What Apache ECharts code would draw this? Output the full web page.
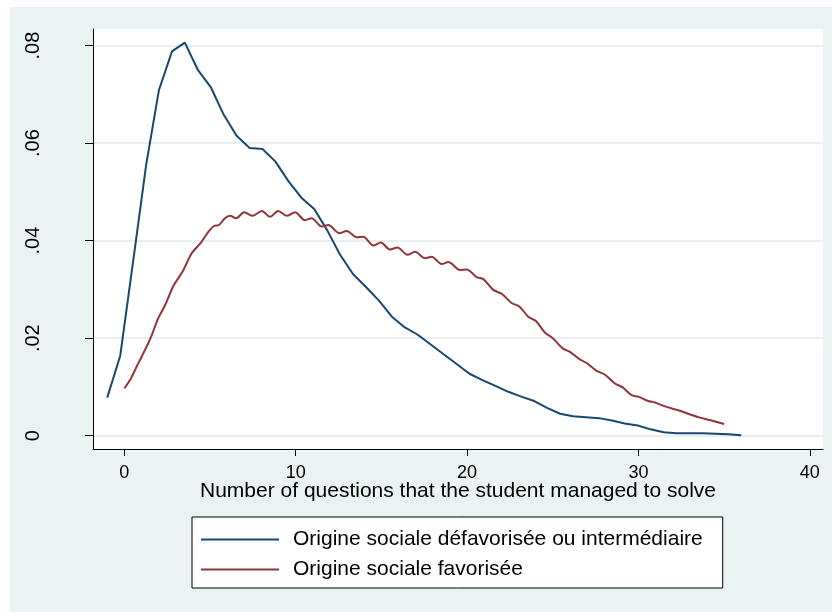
<!DOCTYPE html>
<html>
<head>
<meta charset="utf-8">
<script src="https://cdn.jsdelivr.net/npm/echarts@6/dist/echarts.min.js"></script>
<style>
  html, body { margin: 0; padding: 0; background: #fff; }
  #chart { position: absolute; left: 10px; top: 7px; width: 822px; height: 605px; }
</style>
</head>
<body>
<div id="chart"></div>
<script>
// series names
const seriesNames = [
  'Origine sociale défavorisée ou intermédiaire',
  'Origine sociale favorisée'
]

// blue curve (défavorisée ou intermédiaire)
const blueX = [-1.0, -0.24, 0.51, 1.27, 2.02, 2.78, 3.53, 4.29, 5.04, 5.80,
  6.55, 7.31, 8.06, 8.82, 9.57, 10.33, 11.08, 11.84, 12.59, 13.35,
  14.10, 14.86, 15.61, 16.37, 17.12, 17.88, 18.63, 19.39, 20.14, 20.90,
  21.65, 22.41, 23.16, 23.92, 24.67, 25.43, 26.18, 26.94, 27.69, 28.45,
  29.20, 29.96, 30.71, 31.47, 32.22, 32.98, 33.73, 34.49, 35.24, 36.0]
const blueY = [0.0078, 0.0164, 0.0357, 0.0555, 0.0709, 0.0788, 0.0806, 0.0750, 0.0715, 0.0658,
  0.0615, 0.0590, 0.0588, 0.0562, 0.0522, 0.0488, 0.0465, 0.0421, 0.0371, 0.0331,
  0.0305, 0.0277, 0.0244, 0.0222, 0.0207, 0.0187, 0.0167, 0.0147, 0.0127, 0.0114,
  0.0102, 0.0090, 0.0080, 0.0071, 0.0057, 0.0045, 0.0040, 0.0038, 0.0036, 0.0031,
  0.0025, 0.0021, 0.0013, 0.0007, 0.0005, 0.0005, 0.0005, 0.0004, 0.0003, 0.0001]

// red curve (favorisée)
const redX = [0.0, 0.39, 0.72, 1.01, 1.40, 1.64, 1.98, 2.41, 2.86, 3.39,
  3.93, 4.47, 4.90, 5.23, 5.52, 5.87, 6.18, 6.52, 7.00, 7.49,
  8.02, 8.50, 8.98, 9.47, 9.96, 10.54, 10.93, 11.52, 11.90, 12.55,
  12.97, 13.56, 13.94, 14.53, 14.96, 15.50, 15.93, 16.53, 16.96, 17.54,
  17.93, 18.52, 18.90, 19.59, 19.98, 20.56, 20.95, 21.53, 22.02, 22.60,
  23.05, 23.57, 24.02, 24.55, 25.00, 25.58, 26.00, 26.55, 26.98, 27.56,
  28.05, 28.63, 29.08, 29.60, 29.99, 30.57, 30.96, 31.64, 32.42, 33.49,
  34.17, 35.00]
const redY = [0.0097, 0.0118, 0.0142, 0.0162, 0.0190, 0.0210, 0.0241, 0.0270, 0.0307, 0.0336,
  0.0374, 0.0396, 0.0418, 0.0430, 0.0432, 0.0446, 0.0451, 0.0446, 0.0458, 0.0451,
  0.0461, 0.0449, 0.0461, 0.0451, 0.0458, 0.0442, 0.0446, 0.0429, 0.0432, 0.0415,
  0.0420, 0.0407, 0.0408, 0.0390, 0.0396, 0.0382, 0.0386, 0.0371, 0.0377, 0.0364,
  0.0367, 0.0352, 0.0356, 0.0340, 0.0341, 0.0325, 0.0321, 0.0299, 0.0291, 0.0272,
  0.0265, 0.0244, 0.0235, 0.0211, 0.0200, 0.0179, 0.0172, 0.0157, 0.0149, 0.0133,
  0.0125, 0.0107, 0.0099, 0.0083, 0.0080, 0.0071, 0.0068, 0.0059, 0.0051, 0.0038,
  0.0032, 0.0024]

// axis ticks
const xTicks = [0, 10, 20, 30, 40]
const yTicks = [0, 0.02, 0.04, 0.06, 0.08]

const pairs = (xs, ys) => xs.map((x, i) => [x, ys[i]])

const chart = echarts.init(document.getElementById('chart'))
const option = {
  animation: false,
  backgroundColor: '#EAF2F3',
  textStyle: { fontFamily: 'Liberation Sans, Arial, sans-serif' },
  grid: {
    left: 83,
    right: 9,
    top: 22,
    bottom: 163,
    show: true,
    backgroundColor: '#fff',
    borderWidth: 0
  },
  xAxis: {
    type: 'value',
    min: -1.83,
    max: 40.77,
    name: 'Number of questions that the student managed to solve',
    nameLocation: 'middle',
    nameGap: 32,
    nameMoveOverlap: false,
    nameTextStyle: { fontSize: 21, color: '#000' },
    axisLine: { show: true, onZero: false, lineStyle: { color: '#000', width: 1 } },
    axisTick: { show: true, length: 7, customValues: xTicks, lineStyle: { color: '#000' } },
    axisLabel: { customValues: xTicks, fontSize: 18, color: '#000', margin: 15 },
    splitLine: { show: false }
  },
  yAxis: {
    type: 'value',
    min: -0.00273,
    max: 0.0834,
    axisLine: { show: true, onZero: false, lineStyle: { color: '#000', width: 1 } },
    axisTick: { show: true, length: 8, customValues: yTicks, lineStyle: { color: '#000' } },
    axisLabel: {
      customValues: yTicks,
      rotate: 90,
      fontSize: 20,
      color: '#000',
      margin: 50,
      formatter: v => v === 0 ? '0' : String(v).replace('0.', '.')
    },
    splitLine: { show: true, lineStyle: { color: '#E6EFF1', width: 2 } }
  },
  legend: {
    orient: 'vertical',
    left: 182,
    top: 510,
    padding: [12, 20, 8, 9],
    itemGap: 9,
    itemWidth: 78,
    itemHeight: 2,
    icon: 'rect',
    backgroundColor: '#fff',
    borderColor: '#000',
    borderWidth: 1,
    borderRadius: 0,
    textStyle: { fontSize: 21, lineHeight: 20, color: '#000', padding: [0, 0, 0, 9] },
    data: seriesNames
  },
  series: [
    {
      name: seriesNames[0],
      type: 'line',
      symbol: 'none',
      data: pairs(blueX, blueY),
      lineStyle: { color: '#1A476F', width: 2 },
      itemStyle: { color: '#1A476F' }
    },
    {
      name: seriesNames[1],
      type: 'line',
      symbol: 'none',
      smooth: 0.3,
      data: pairs(redX, redY),
      lineStyle: { color: '#90353B', width: 2 },
      itemStyle: { color: '#90353B' }
    }
  ]
}
chart.setOption(option)
window.addEventListener('resize', function () {
  chart.resize()
})
</script>
</body>
</html>
